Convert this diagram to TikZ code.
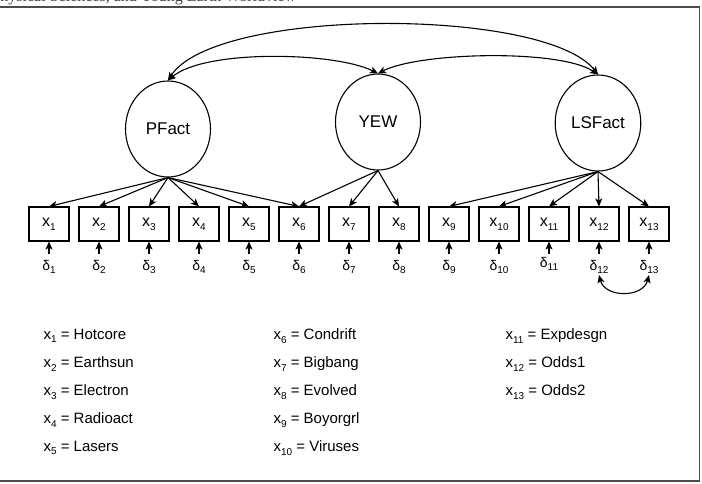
\documentclass[tikz,border=0pt]{standalone}
\usepackage{fontspec}
\setmainfont{Liberation Sans}
\newfontfamily\capfont{Liberation Serif}
\usetikzlibrary{arrows.meta,shapes.geometric}
\newcommand{\lowsub}[1]{\raisebox{-0.45ex}{\fontsize{10pt}{10pt}\selectfont #1}}

\begin{document}
\begin{tikzpicture}[x=1pt, y=-1pt, line width=1.1pt, >={Stealth[length=8pt,width=7pt,inset=2pt]},
  latent/.style={ellipse, draw, minimum width=85pt, minimum height=96pt, font=\fontsize{17}{17}\selectfont},
  obs/.style={rectangle, draw, minimum width=40pt, minimum height=34pt, inner sep=0pt, font=\fontsize{16}{16}\selectfont},
  err/.style={inner sep=0pt, text height=9pt, text depth=4pt, font=\fontsize{14}{14}\selectfont},
  legend/.style={anchor=west, inner sep=0pt, font=\fontsize{15}{15}\selectfont}]
  \useasboundingbox (0,0) rectangle (702,483);
  \clip (0,0) rectangle (702,483);
  \node[anchor=base west, inner sep=0pt, text=black!75, font=\capfont\fontsize{16}{16}\selectfont] (title) at (-9,1.5) {Physical Sciences, and Young Earth Worldview};
  \draw[line width=1.3pt, black!70] (-2,7) rectangle (699.5,481);
  % latent factors
  \node[latent] (PFact) at (168,129) {PFact};
  \node[latent] (YEW) at (378,122) {YEW};
  \node[latent] (LSFact) at (598,123) {LSFact};
  % indicators
  \node[obs] (x1) at (49,224) {x\lowsub{1}};
  \node[obs] (x2) at (99,224) {x\lowsub{2}};
  \node[obs] (x3) at (149,224) {x\lowsub{3}};
  \node[obs] (x4) at (199,224) {x\lowsub{4}};
  \node[obs] (x5) at (249,224) {x\lowsub{5}};
  \node[obs] (x6) at (299,224) {x\lowsub{6}};
  \node[obs] (x7) at (349,224) {x\lowsub{7}};
  \node[obs] (x8) at (399,224) {x\lowsub{8}};
  \node[obs] (x9) at (449,224) {x\lowsub{9}};
  \node[obs] (x10) at (499,224) {x\lowsub{10}};
  \node[obs] (x11) at (549,224) {x\lowsub{11}};
  \node[obs] (x12) at (599,224) {x\lowsub{12}};
  \node[obs] (x13) at (649,224) {x\lowsub{13}};
  % errors
  \node[err] (d1) at (49,268) {δ\lowsub{1}};
  \node[err] (d2) at (99,268) {δ\lowsub{2}};
  \node[err] (d3) at (149,268) {δ\lowsub{3}};
  \node[err] (d4) at (199,268) {δ\lowsub{4}};
  \node[err] (d5) at (249,268) {δ\lowsub{5}};
  \node[err] (d6) at (299,268) {δ\lowsub{6}};
  \node[err] (d7) at (349,268) {δ\lowsub{7}};
  \node[err] (d8) at (399,268) {δ\lowsub{8}};
  \node[err] (d9) at (449,268) {δ\lowsub{9}};
  \node[err] (d10) at (499,268) {δ\lowsub{10}};
  \node[err] (d11) at (549,265) {δ\lowsub{11}};
  \node[err] (d12) at (599,268) {δ\lowsub{12}};
  \node[err] (d13) at (649,268) {δ\lowsub{13}};
  % loadings
  \draw[->] (PFact.south) -- (x1.north);
  \draw[->] (PFact.south) -- (x2.north);
  \draw[->] (PFact.south) -- (x3.north);
  \draw[->] (PFact.south) -- (x4.north);
  \draw[->] (PFact.south) -- (x5.north);
  \draw[->] (PFact.south) -- (x6.north);
  \draw[->] (YEW.south) -- (x6.north);
  \draw[->] (YEW.south) -- (x7.north);
  \draw[->] (YEW.south) -- (x8.north);
  \draw[->] (LSFact.south) -- (x9.north);
  \draw[->] (LSFact.south) -- (x10.north);
  \draw[->] (LSFact.south) -- (x11.north);
  \draw[->] (LSFact.south) -- (x12.north);
  \draw[->] (LSFact.south) -- (x13.north);
  % error paths
  \draw[->, shorten <=7pt] (d1) -- (x1);
  \draw[->, shorten <=7pt] (d2) -- (x2);
  \draw[->, shorten <=7pt] (d3) -- (x3);
  \draw[->, shorten <=7pt] (d4) -- (x4);
  \draw[->, shorten <=7pt] (d5) -- (x5);
  \draw[->, shorten <=7pt] (d6) -- (x6);
  \draw[->, shorten <=7pt] (d7) -- (x7);
  \draw[->, shorten <=7pt] (d8) -- (x8);
  \draw[->, shorten <=7pt] (d9) -- (x9);
  \draw[->, shorten <=7pt] (d10) -- (x10);
  \draw[->, shorten <=4pt] (d11) -- (x11);
  \draw[->, shorten <=7pt] (d12) -- (x12);
  \draw[->, shorten <=7pt] (d13) -- (x13);
  % covariances
  \draw[<->] (PFact.north) .. controls (215,7) and (545,7) .. (LSFact.north);
  \draw[<->] (PFact.north) .. controls (205,49) and (335,52) .. (YEW.north);
  \draw[<->] (YEW.north) .. controls (420,52) and (560,49) .. (LSFact.north);
  \draw[<->] (d12.south) .. controls (605,298) and (643,298) .. (d13.south);
  % key
  \node[legend] (k1) at (43,336) {x\lowsub{1} = Hotcore};
  \node[legend] (k2) at (43,364) {x\lowsub{2} = Earthsun};
  \node[legend] (k3) at (43,392) {x\lowsub{3} = Electron};
  \node[legend] (k4) at (43,420) {x\lowsub{4} = Radioact};
  \node[legend] (k5) at (43,448) {x\lowsub{5} = Lasers};
  \node[legend] (k6) at (273,336) {x\lowsub{6} = Condrift};
  \node[legend] (k7) at (273,364) {x\lowsub{7} = Bigbang};
  \node[legend] (k8) at (273,392) {x\lowsub{8} = Evolved};
  \node[legend] (k9) at (273,420) {x\lowsub{9} = Boyorgrl};
  \node[legend] (k10) at (273,448) {x\lowsub{10} = Viruses};
  \node[legend] (k11) at (505,336) {x\lowsub{11} = Expdesgn};
  \node[legend] (k12) at (505,364) {x\lowsub{12} = Odds1};
  \node[legend] (k13) at (505,392) {x\lowsub{13} = Odds2};
\end{tikzpicture}
\end{document}
